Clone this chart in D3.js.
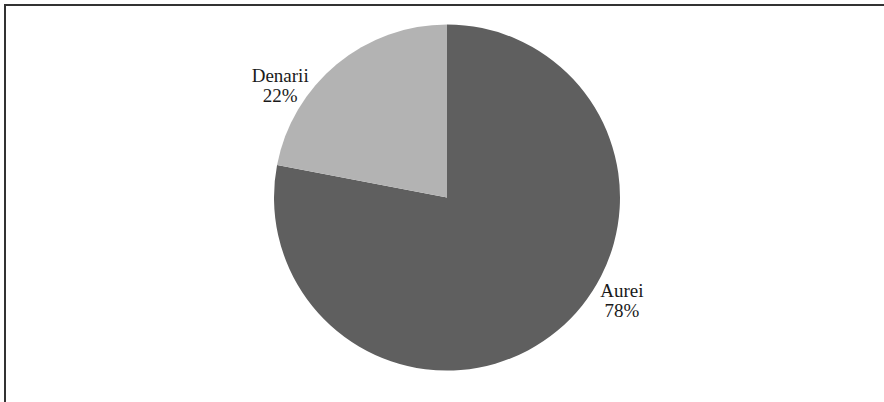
<!DOCTYPE html>
<html>
<head>
<meta charset="utf-8">
<script src="https://cdn.jsdelivr.net/npm/d3@7"></script>
<style>
  html, body { margin: 0; padding: 0; background: #fff; }
  svg { display: block; }
</style>
</head>
<body>
<svg id="chart" width="884" height="402"></svg>
<script>
// Coin hoard composition
const categories = ["Aurei", "Denarii"];
const shares = [78, 22];
const sliceColors = ["#5f5f5f", "#b3b3b3"];

const width = 884, height = 402;
const cx = 447, cy = 197.5, radius = 173;
// label placement ellipse (horizontal / vertical reach) and small nudge
const labelRx = 268, labelRy = 140, labelDx = 4;

const svg = d3.select("#chart");

// frame (left and top edges visible in the canvas)
svg.append("rect")
  .attr("x", 5).attr("y", 5)
  .attr("width", width + 10).attr("height", height + 10)
  .attr("fill", "none")
  .attr("stroke", "#333")
  .attr("stroke-width", 2);

const data = categories.map((c, i) => ({ name: c, value: shares[i], color: sliceColors[i] }));

const pie = d3.pie().value(d => d.value).sort(null);
const arc = d3.arc().innerRadius(0).outerRadius(radius);
const arcs = pie(data);

const g = svg.append("g").attr("transform", `translate(${cx},${cy})`);

g.selectAll("path.slice")
  .data(arcs)
  .join("path")
  .attr("class", "slice")
  .attr("d", arc)
  .attr("fill", d => d.data.color);

const labels = g.selectAll("text.label")
  .data(arcs)
  .join("text")
  .attr("class", "label")
  .attr("font-family", "'Liberation Serif', 'Times New Roman', serif")
  .attr("font-size", 19)
  .attr("fill", "#1a1a1a")
  .attr("text-anchor", "middle")
  .attr("transform", d => {
    const a = (d.startAngle + d.endAngle) / 2;
    return `translate(${Math.sin(a) * labelRx + labelDx},${-Math.cos(a) * labelRy})`;
  });

labels.append("tspan")
  .attr("x", 0).attr("y", -8)
  .text(d => d.data.name);
labels.append("tspan")
  .attr("x", 0).attr("y", 12)
  .text(d => d.data.value + "%");
</script>
</body>
</html>
